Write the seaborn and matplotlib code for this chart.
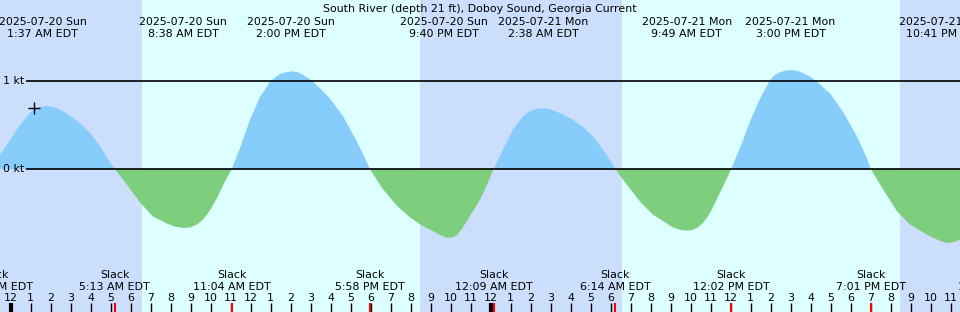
import matplotlib
matplotlib.use("Agg")
import matplotlib.pyplot as plt
import seaborn as sns
import numpy as np
import pandas as pd

# ---- data (hours since 2025-07-20 00:00 EDT, current in knots) ----
hours = [-0.525, -0.025, 0.475, 0.975, 1.225, 1.475, 1.725, 1.975, 2.225, 2.475,
         2.825, 3.475, 3.975, 4.475, 4.875, 5.217,
         5.825, 6.475, 7.125, 7.825, 8.225, 8.625, 8.975, 9.325, 9.575, 9.825,
         10.075, 10.325, 10.725, 11.067,
         11.475, 11.975, 12.475, 12.975, 13.225, 13.475, 13.775, 14.075, 14.375, 14.625,
         14.975, 15.325, 15.975, 16.625, 17.325, 17.725, 17.967,
         18.625, 19.325, 19.975, 20.625, 20.975, 21.325, 21.575, 21.825, 22.075, 22.325,
         22.575, 22.825, 23.125, 23.475, 23.825, 24.15,
         24.625, 25.125, 25.625, 25.875, 26.125, 26.375, 26.625, 26.975, 27.325, 27.975,
         28.625, 29.125, 29.625, 30.075, 30.233,
         30.825, 31.475, 32.125, 32.825, 33.125, 33.475, 33.775, 34.075, 34.325, 34.575,
         34.775, 34.975, 35.475, 35.875, 36.033,
         36.475, 36.975, 37.475, 37.975, 38.225, 38.475, 38.775, 39.075, 39.375, 39.625,
         39.975, 40.325, 40.975, 41.625, 42.325, 42.825, 43.017,
         43.625, 44.325, 44.975, 45.625, 45.975, 46.325, 46.575, 46.825, 47.075, 47.325,
         47.475]
speed = [0.16, 0.33, 0.50, 0.64, 0.68, 0.705, 0.715, 0.71, 0.70, 0.675,
         0.63, 0.52, 0.41, 0.26, 0.11, 0.0,
         -0.18, -0.38, -0.54, -0.62, -0.655, -0.67, -0.665, -0.63, -0.585, -0.52,
         -0.43, -0.33, -0.14, 0.0,
         0.24, 0.56, 0.82, 0.99, 1.04, 1.08, 1.10, 1.11, 1.10, 1.07,
         1.02, 0.95, 0.80, 0.60, 0.31, 0.12, 0.0,
         -0.23, -0.42, -0.55, -0.65, -0.69, -0.73, -0.76, -0.78, -0.78, -0.75,
         -0.68, -0.59, -0.48, -0.35, -0.18, 0.0,
         0.22, 0.45, 0.60, 0.645, 0.67, 0.685, 0.69, 0.68, 0.65, 0.58,
         0.48, 0.37, 0.22, 0.07, 0.0,
         -0.18, -0.37, -0.52, -0.62, -0.665, -0.69, -0.70, -0.695, -0.67, -0.625,
         -0.57, -0.50, -0.27, -0.08, 0.0,
         0.24, 0.54, 0.80, 1.01, 1.07, 1.10, 1.12, 1.125, 1.11, 1.09,
         1.05, 0.99, 0.86, 0.65, 0.37, 0.12, 0.0,
         -0.23, -0.48, -0.63, -0.72, -0.765, -0.80, -0.825, -0.84, -0.835, -0.82,
         -0.80]

max_hours = [1.617, 8.633, 14.0, 21.667, 26.633, 33.817, 39.0, 46.683]
max_dates = ["2025-07-20 Sun", "2025-07-20 Sun", "2025-07-20 Sun", "2025-07-20 Sun",
             "2025-07-21 Mon", "2025-07-21 Mon", "2025-07-21 Mon", "2025-07-21 Mon"]
max_times = ["1:37 AM EDT", "8:38 AM EDT", "2:00 PM EDT", "9:40 PM EDT",
             "2:38 AM EDT", "9:49 AM EDT", "3:00 PM EDT", "10:41 PM EDT"]

slack_hours = [-0.817, 5.217, 11.067, 17.967, 24.15, 30.233, 36.033, 43.017, 49.15]
slack_times = ["11:11 PM EDT", "5:13 AM EDT", "11:04 AM EDT", "5:58 PM EDT",
               "12:09 AM EDT", "6:14 AM EDT", "12:02 PM EDT", "7:01 PM EDT", "1:09 AM EDT"]

night_start = [-0.525, 20.475, 44.475]
night_end = [6.558, 30.575, 47.475]

hour_ticks = list(range(0, 48))
hour_labels = [str((h % 12) or 12) for h in hour_ticks]

now_hour = [1.175]
now_speed = [0.69]

title = "South River (depth 21 ft), Doboy Sound, Georgia Current"

# ---- style ----
sns.set_theme(style="white")
plt.rcParams["font.family"] = ["DejaVu Sans"]
plt.rcParams["text.color"] = "black"
FS = 7.9

NIGHT = "#CBDFFD"
DAY = "#DDFFFF"
FLOOD = "#87CDFC"
EBB = "#7DCE7D"

W, H = 960, 312
fig = plt.figure(figsize=(W / 100, H / 100), dpi=100)
ax = fig.add_axes([0, 0, 1, 1])
ax.set_axis_off()

X0, XMAX = -0.525, 47.475
ZERO_PX, KT_PX = 169.0, 88.0


def vy(py):
    return (ZERO_PX - py) / KT_PX


ax.set_xlim(X0, XMAX)
ax.set_ylim(vy(H), vy(0))

# background day / night
ax.axvspan(X0, XMAX, color=DAY, lw=0, zorder=0)
for s, e in zip(night_start, night_end):
    ax.axvspan(s, e, color=NIGHT, lw=0, zorder=0.5)

df = pd.DataFrame({"hour": hours, "speed": speed})
t = df["hour"].to_numpy()
v = df["speed"].to_numpy()
ax.fill_between(t, v, 0, where=v >= 0, interpolate=True, color=FLOOD, lw=0, zorder=1)
ax.fill_between(t, v, 0, where=v <= 0, interpolate=True, color=EBB, lw=0, zorder=1)
sns.lineplot(data=df, x="hour", y="speed", ax=ax, lw=0, legend=False)

# reference lines
line_start = (26 - 10.5) / 20
for k in [0, 1]:
    ax.hlines(k, line_start, XMAX, color="black", lw=1.2, zorder=2)
    ax.text((24 - 10.5) / 20, k, f"{k} kt", ha="right", va="center", fontsize=FS,
            color="black", zorder=3)

# current marker
sns.scatterplot(x=now_hour, y=now_speed, marker="+", s=70, color="black",
                linewidth=1.0, ax=ax, zorder=4, legend=False)

# title and max labels
ax.text((480 - 10.5) / 20, vy(11.7), title, ha="center", va="baseline", fontsize=FS,
        color="black", zorder=3)
for h, d, tm in zip(max_hours, max_dates, max_times):
    ax.text(h, vy(25), d, ha="center", va="baseline", fontsize=FS, color="black", zorder=3)
    ax.text(h, vy(37.3), tm, ha="center", va="baseline", fontsize=FS, color="black", zorder=3)

# slack labels
for h, tm in zip(slack_hours, slack_times):
    ax.text(h, vy(278), "Slack", ha="center", va="baseline", fontsize=FS, color="black", zorder=3)
    ax.text(h, vy(290), tm, ha="center", va="baseline", fontsize=FS, color="black", zorder=3)

# hour ticks and labels
for h, lab in zip(hour_ticks, hour_labels):
    lw = 3 if h % 24 == 0 else 1
    ax.vlines(h, vy(H), vy(303), color="black", lw=lw, zorder=3)
    ax.text(h, vy(300.7), lab, ha="center", va="baseline", fontsize=FS, color="black", zorder=3)
for h in slack_hours:
    ax.vlines(h, vy(H), vy(303), color="red", lw=1.5, zorder=3.5)

fig.savefig("out.png", dpi=100)
